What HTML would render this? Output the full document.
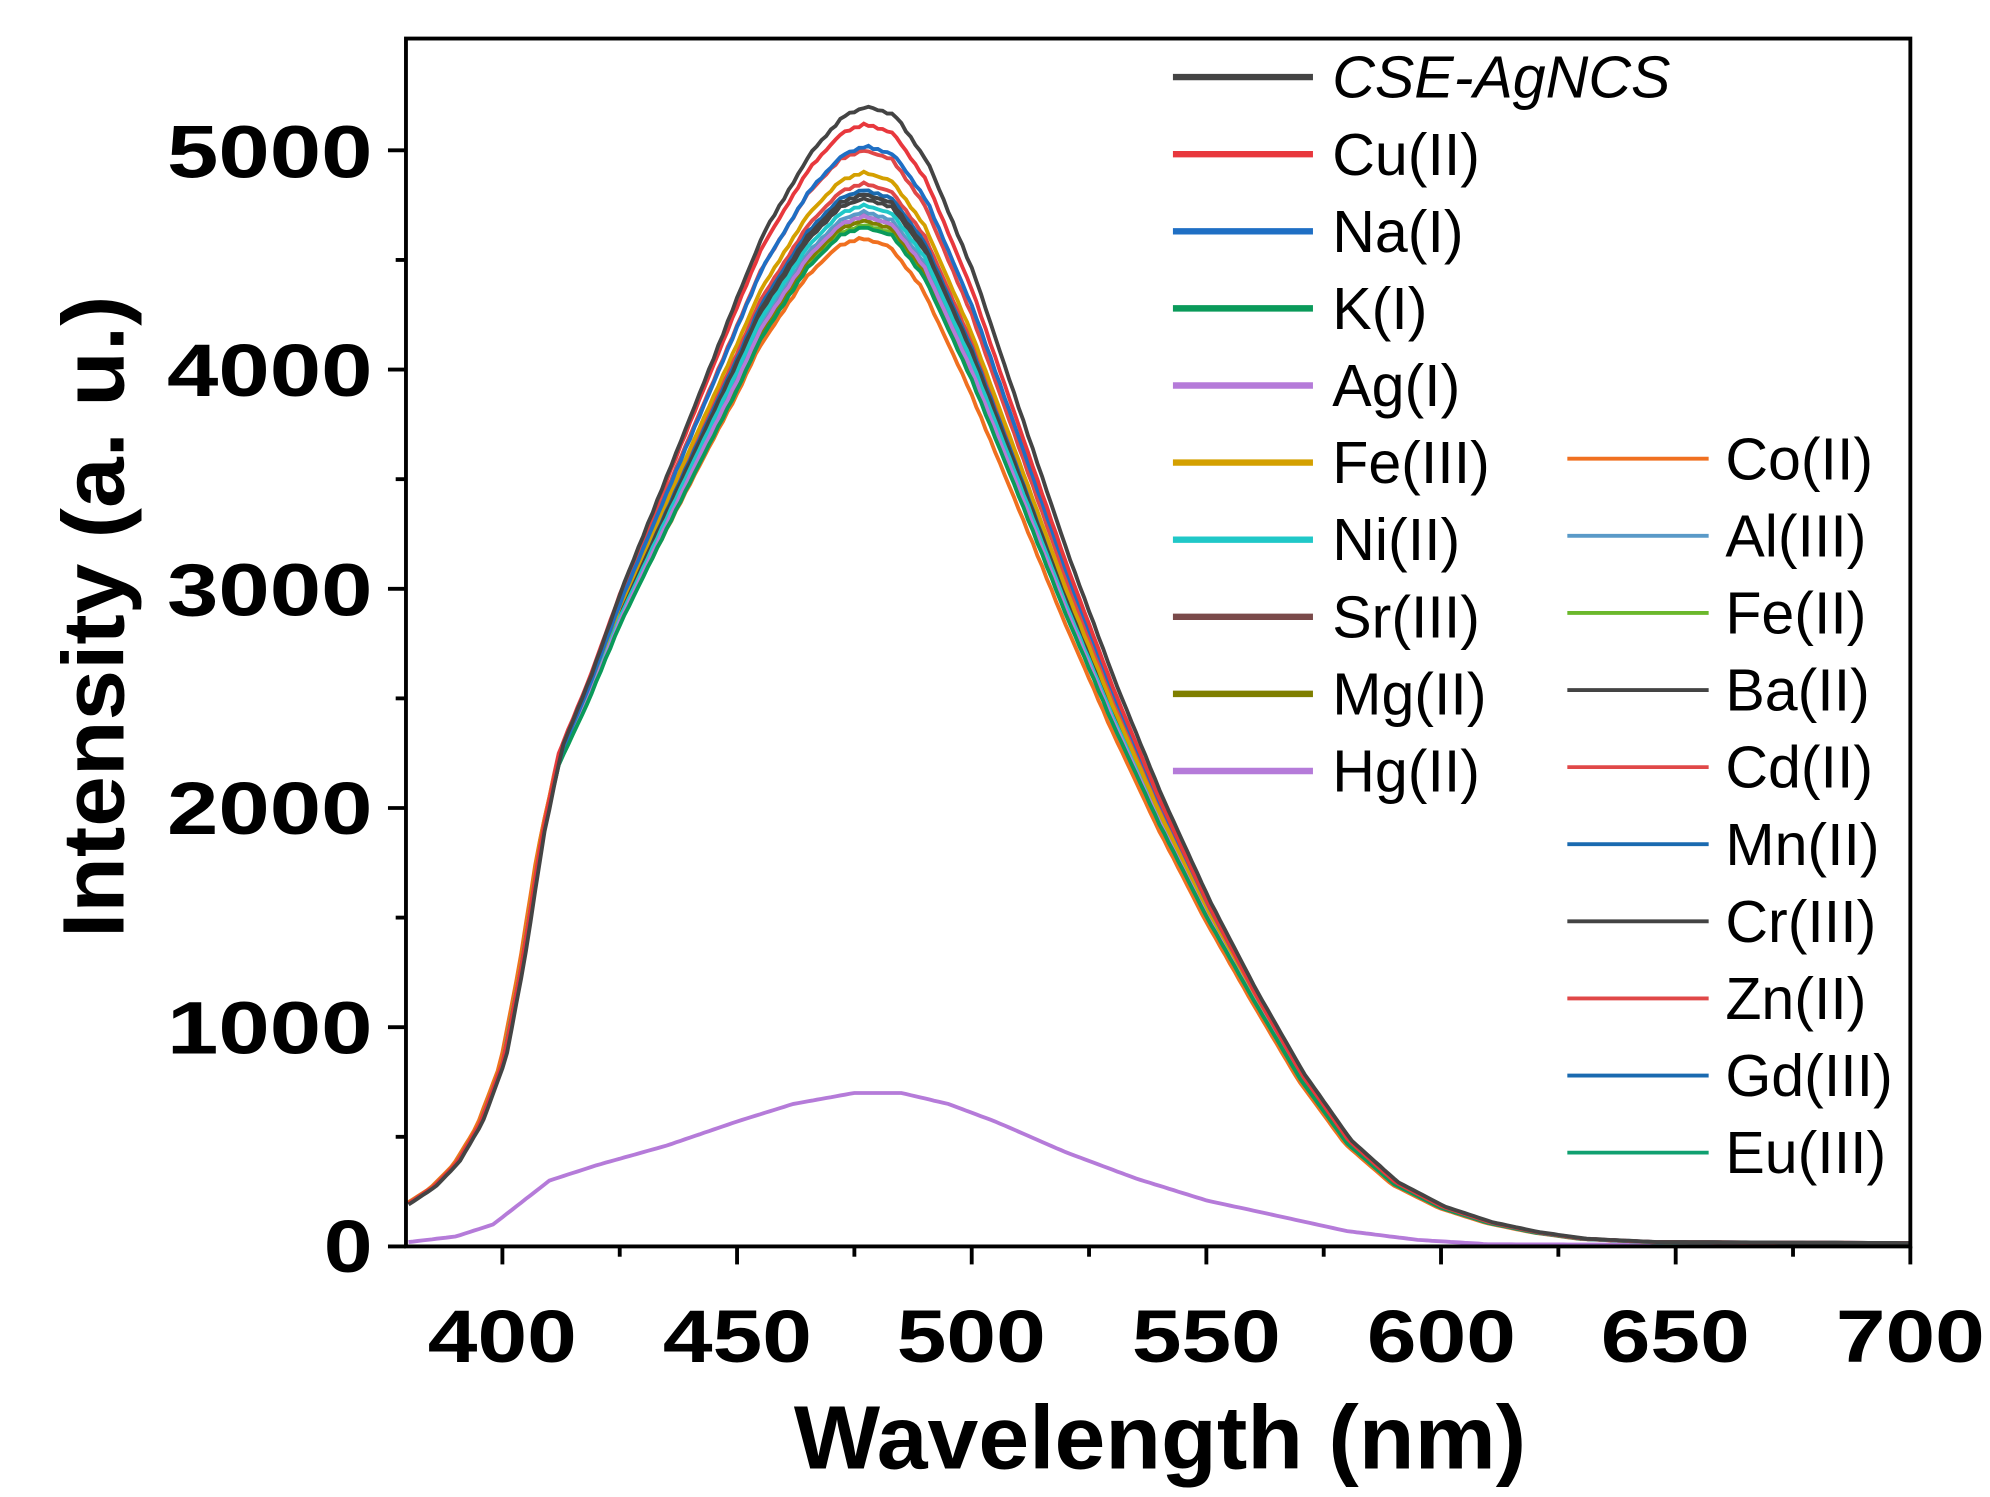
<!DOCTYPE html>
<html><head><meta charset="utf-8"><style>
html,body{margin:0;padding:0;background:#fff;}
svg{display:block}
text{font-family:"Liberation Sans",Arial,sans-serif;}
</style></head><body>
<svg id="s" width="1990" height="1497" viewBox="0 0 1549 1165" preserveAspectRatio="none" xmlns="http://www.w3.org/2000/svg">
<rect width="1549" height="1165" fill="#fff"/>
<g id="curves"></g>
<rect x="316" y="30" width="1171" height="940" fill="none" stroke="#000" stroke-width="3"/>
<g id="ticks" stroke="#000" stroke-width="3"></g>
<g font-weight="bold" font-size="58" text-anchor="end" lengthAdjust="spacingAndGlyphs">
<text x="290" y="990" textLength="38" lengthAdjust="spacingAndGlyphs">0</text>
<text x="290" y="820" textLength="160" lengthAdjust="spacingAndGlyphs">1000</text>
<text x="290" y="649" textLength="160" lengthAdjust="spacingAndGlyphs">2000</text>
<text x="290" y="479" textLength="160" lengthAdjust="spacingAndGlyphs">3000</text>
<text x="290" y="308" textLength="160" lengthAdjust="spacingAndGlyphs">4000</text>
<text x="290" y="138" textLength="160" lengthAdjust="spacingAndGlyphs">5000</text>
</g>
<g font-weight="bold" font-size="58" text-anchor="middle">
<text x="391" y="1060" textLength="116" lengthAdjust="spacingAndGlyphs">400</text>
<text x="574" y="1060" textLength="116" lengthAdjust="spacingAndGlyphs">450</text>
<text x="756" y="1060" textLength="116" lengthAdjust="spacingAndGlyphs">500</text>
<text x="939" y="1060" textLength="116" lengthAdjust="spacingAndGlyphs">550</text>
<text x="1122" y="1060" textLength="116" lengthAdjust="spacingAndGlyphs">600</text>
<text x="1304" y="1060" textLength="116" lengthAdjust="spacingAndGlyphs">650</text>
<text x="1487" y="1060" textLength="116" lengthAdjust="spacingAndGlyphs">700</text>
</g>
<text x="903" y="1143" font-weight="bold" font-size="70" text-anchor="middle" textLength="570" lengthAdjust="spacingAndGlyphs">Wavelength (nm)</text>
<text transform="translate(96,480) rotate(-90)" font-weight="bold" font-size="68" text-anchor="middle" textLength="500" lengthAdjust="spacingAndGlyphs">Intensity (a. u.)</text>
<g id="legend" font-size="46"></g>
</svg>
<script>
var X=function(w){return 318+(w-380)*(1487-318)/320;};
var Y=function(v){return 970-v*0.1706;};
var base=[[380,200],[385,270],[390,380],[395,560],[400,850],[404,1300],[408,1850],[412,2250],[418,2550],[425,2950],[435,3450],[445,3950],[455,4450],[465,4800],[472,4960],[477,5000],[483,4960],[490,4750],[500,4250],[510,3650],[520,3050],[530,2500],[540,2000],[550,1550],[560,1150],[570,780],[580,480],[590,290],[600,180],[610,110],[620,65],[630,35],[645,20],[700,15]];
var hg=[[380,20],[390,45],[398,100],[404,200],[410,300],[420,370],[435,460],[450,570],[462,650],[475,700],[485,700],[495,650],[505,570],[520,430],[535,310],[550,210],[565,140],[580,70],[595,30],[610,10],[700,5]];
function interp(pts,w){for(var i=0;i<pts.length-1;i++){if(w<=pts[i+1][0]){var t=(w-pts[i][0])/(pts[i+1][0]-pts[i][0]);return pts[i][1]+t*(pts[i+1][1]-pts[i][1]);}}return pts[pts.length-1][1];}
var ser=[
["CSE-AgNCS","#444",5200,0.8],["Cu(II)","#e8383d",5120,0.3],["Na(I)","#1f6fc4",5020,0.5],["K(I)","#0a9a5a",4650,0],["Ag(I)","#b57bd9",4700,0],
["Fe(III)","#d4a000",4900,0],["Ni(II)","#20c8c8",4750,0],["Sr(III)","#7a4a4a",4700,0],["Mg(II)","#7f7f00",4680,0],["Hg(II)","#b57bd9",0,0],
["Co(II)","#f07020",4600,-0.5],["Al(III)","#5a9ac8",4720,0],["Fe(II)","#6bb82c",4660,0],["Ba(II)","#444",4800,0],["Cd(II)","#e04848",5000,0],
["Mn(II)","#1a6ab0",4820,0],["Cr(III)","#444",4780,0],["Zn(II)","#e04848",4850,0],["Gd(III)","#1a6ab0",4800,0],["Eu(III)","#10a070",4700,0]];
var NS="http://www.w3.org/2000/svg";
var cg=document.getElementById("curves");
var order=ser.slice().reverse();
order.forEach(function(s){
 var d="";var seed=s[2]%97;
 for(var w=380;w<=700;w+=1){
  var v;
  if(s[0]=="Hg(II)")v=interp(hg,w);
  else{v=interp(base,w-s[3]);var f=s[2]/5000;var wt=Math.min(1,Math.max(0,(w-410)/40))*Math.min(1,Math.max(0,(560-w)/60));v=v*(1+(f-1)*(0.3+0.7*wt));v+=Math.sin(w*2.9+seed)*4*(v/5000);}
  d+=(w==380?"M":"L")+X(w).toFixed(1)+","+Y(v).toFixed(1);
 }
 var p=document.createElementNS(NS,"path");p.setAttribute("d",d);p.setAttribute("fill","none");p.setAttribute("stroke",s[1]);p.setAttribute("stroke-width","3");cg.appendChild(p);
});
var lg=document.getElementById("legend");
ser.forEach(function(s,i){
 var col=i<10?0:1;var row=i<10?i:i-10;
 var y=col==0?60+row*60:357+row*60;
 var x1=col==0?913:1220,x2=col==0?1022:1330,tx=col==0?1037:1343;
 var l=document.createElementNS(NS,"line");l.setAttribute("x1",x1);l.setAttribute("x2",x2);l.setAttribute("y1",y);l.setAttribute("y2",y);l.setAttribute("stroke",s[1]);l.setAttribute("stroke-width",col==0?5:3);lg.appendChild(l);
 var t=document.createElementNS(NS,"text");t.setAttribute("x",tx);t.setAttribute("y",y+16);t.textContent=s[0];if(i==0)t.setAttribute("font-style","italic");lg.appendChild(t);
});
var tg=document.getElementById("ticks");
function ln(a,b,c,d){var l=document.createElementNS(NS,"line");l.setAttribute("x1",a);l.setAttribute("y1",b);l.setAttribute("x2",c);l.setAttribute("y2",d);tg.appendChild(l);}
for(var w=400;w<=700;w+=25){var x=X(w);ln(x,970,x,w%50==0?984:978);}
for(var v=0;v<=5000;v+=500){var y=Y(v);ln(316,y,v%1000==0?302:308,y);}
</script>
</body></html>
